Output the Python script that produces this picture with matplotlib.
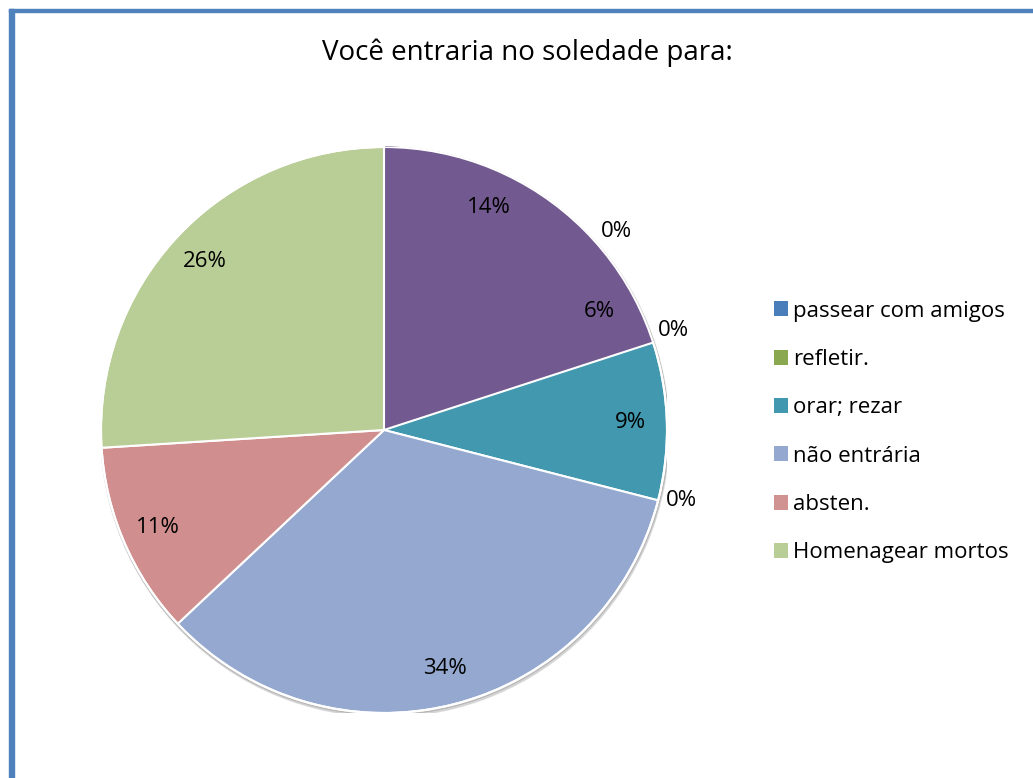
import numpy as np
import matplotlib.pyplot as plt
from matplotlib.patches import Patch, Circle, Rectangle

# data (clockwise from 12 o'clock)
values = [14, 0, 6, 0, 9, 0, 34, 11, 26]
slice_colors = ['#72598F', '#4A7EBB', '#72598F', '#8AA84F', '#4198AF',
                '#7F7F7F', '#95A9D0', '#D08F8E', '#B9CD96']
inside = [True, False, True, False, True, False, True, True, True]

legend_labels = ['passear com amigos', 'refletir.', 'orar; rezar',
                 'não entrária', 'absten.', 'Homenagear mortos']
legend_colors = ['#4A7EBB', '#8AA84F', '#4198AF', '#95A9D0', '#D09392', '#B9CD96']

title = 'Você entraria no soledade para:'

plt.rcParams['font.family'] = ['Open Sans', 'DejaVu Sans']

W, H = 1033, 778
fig = plt.figure(figsize=(W/100, H/100), dpi=100)

# blue frame (left and top)
fig.patches.append(Rectangle((9/W, -0.1), 5/W, 1.1 - 9/H, transform=fig.transFigure,
                             color='#4F81BD', zorder=5))
fig.patches.append(Rectangle((9/W, 1 - 12/H), 1.0, 3/H, transform=fig.transFigure,
                             color='#4F81BD', zorder=5))

cx, cy, r = 384, 430, 283
ax = fig.add_axes([(cx - r)/W, (H - cy - r)/H, 2*r/W, 2*r/H])

# soft shadow
ax.add_patch(Circle((0.004, -0.01), 1.004, color='#000000', alpha=0.10, zorder=0))
ax.add_patch(Circle((0.002, -0.005), 1.003, color='#000000', alpha=0.12, zorder=0))

wedges, _ = ax.pie(values, colors=slice_colors, startangle=90, counterclock=False,
                   radius=1, wedgeprops=dict(edgecolor='white', linewidth=1.5))
for w, v in zip(wedges, values):
    w.set_zorder(2)
    if v == 0:
        w.set_visible(False)
for i in (0, 2):
    wedges[i].set_edgecolor(slice_colors[i])
    wedges[i].set_linewidth(0.8)
    wedges[i].set_zorder(1)
ax.add_patch(Circle((0, 0), 1.0, fill=False, edgecolor='white', linewidth=1.5, zorder=3))

total = sum(values)
start = 90.0
for v, ins in zip(values, inside):
    ang = start - v / total * 360 / 2
    start -= v / total * 360
    d = 0.87 if ins else 1.08
    if not ins:
        ang += 1
    x, y = d * np.cos(np.radians(ang)), d * np.sin(np.radians(ang))
    ax.text(x, y, f'{v}%', ha='center', va='center', fontsize=16, color='black', zorder=4)

ax.set_xlim(-1, 1)
ax.set_ylim(-1, 1)
ax.axis('off')

fig.text(527/W, 1 - 53/H, title, ha='center', va='center', fontsize=20)

handles = [Patch(facecolor=c, edgecolor='none') for c in legend_colors]
fig.legend(handles, legend_labels, loc='center left', bbox_to_anchor=(754/W, 1 - 432/H),
           frameon=False, fontsize=16, handlelength=0.65, handleheight=0.65,
           handletextpad=0.2, labelspacing=1.23)

fig.savefig('out.png', dpi=100, facecolor='white')
